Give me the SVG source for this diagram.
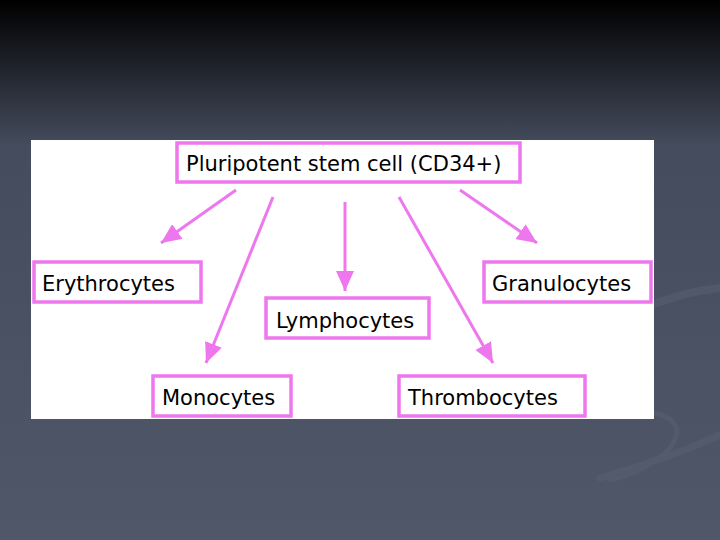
<svg xmlns="http://www.w3.org/2000/svg" width="720" height="540" viewBox="0 0 720 540">
<defs>
<linearGradient id="bg" x1="0" y1="0" x2="0" y2="1">
<stop offset="0" stop-color="#000000"/>
<stop offset="0.27" stop-color="#454c5d"/>
<stop offset="1" stop-color="#4f5768"/>
</linearGradient>
<marker id="ah" markerUnits="userSpaceOnUse" markerWidth="22" markerHeight="18" refX="20" refY="9" orient="auto">
<path d="M0,0 L20,9 L0,18 Z" fill="#ee77ee"/>
</marker>
<style>
.box{fill:#ffffff;stroke:#ee77ee;stroke-width:3.5}
.lbl{font-family:"DejaVu Sans",Verdana,sans-serif;font-size:21px;fill:#000000}
.con{stroke:#ee77ee;stroke-width:3;fill:none;marker-end:url(#ah)}
.sw{fill:none;stroke:#596173;stroke-linecap:round}
</style>
</defs>
<rect x="0" y="0" width="720" height="540" fill="url(#bg)"/>
<g id="swooshes" opacity="0.5">
<path class="sw" d="M640,310 Q680,292 720,288" stroke-width="8"/>
<path class="sw" d="M600,478 Q670,458 720,435" stroke-width="7"/>
<path class="sw" d="M650,412 Q690,420 670,448 Q650,470 610,480" stroke-width="5"/>
</g>
<rect x="31" y="140" width="623" height="279" fill="#ffffff"/>
<g id="connectors">
<line class="con" x1="236" y1="190" x2="161" y2="243"/>
<line class="con" x1="273" y1="197" x2="206" y2="363"/>
<line class="con" x1="345" y1="202" x2="345" y2="291"/>
<line class="con" x1="399" y1="197" x2="493" y2="363"/>
<line class="con" x1="460" y1="190" x2="537" y2="243"/>
</g>
<g id="stem"><rect class="box" x="177" y="143" width="343" height="39"/><text class="lbl" x="186" y="171">Pluripotent stem cell (CD34+)</text></g>
<g id="erythrocytes"><rect class="box" x="34" y="262" width="167" height="40"/><text class="lbl" x="42" y="291">Erythrocytes</text></g>
<g id="granulocytes"><rect class="box" x="484" y="262" width="167" height="40"/><text class="lbl" x="492" y="291">Granulocytes</text></g>
<g id="lymphocytes"><rect class="box" x="266" y="298" width="163" height="40"/><text class="lbl" x="276" y="328">Lymphocytes</text></g>
<g id="monocytes"><rect class="box" x="153" y="376" width="138" height="40"/><text class="lbl" x="162" y="405">Monocytes</text></g>
<g id="thrombocytes"><rect class="box" x="399" y="376" width="186" height="40"/><text class="lbl" x="408" y="405">Thrombocytes</text></g>
</svg>
